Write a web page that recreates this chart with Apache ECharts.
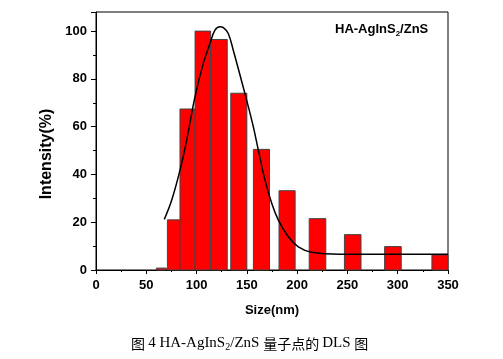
<!DOCTYPE html>
<html><head><meta charset="utf-8">
<script src="https://cdn.jsdelivr.net/npm/echarts@6/dist/echarts.min.js"></script>
<style>html,body{margin:0;padding:0;background:#fff}#c{width:503px;height:359px}</style>
</head><body><div id="c"></div>
<script>
// Histogram bins: [start nm, end nm]
const binStart = [60, 71, 83.5, 98.5, 114, 134, 156.5, 182, 212, 247, 287, 334];
const binEnd   = [70, 83.5, 98.5, 114, 130.5, 150, 172.5, 198, 228.5, 263.5, 303.5, 350];
const intensity = [0.8, 21, 67.4, 100, 96.5, 74, 50.5, 33.2, 21.5, 14.8, 9.8, 6.3];
// Fitted curve
const fitX = [67.9, 75.3, 83.5, 90.2, 98.4, 106.7, 113.4, 118.3, 123.3, 126.6, 131.5, 136.5, 149.8, 156.4, 161.4, 168.0, 174.7, 181.3, 191.2, 201.2, 214.5, 242.6, 350];
const fitY = [21.2, 29.3, 41.8, 54.4, 72.5, 86.5, 94.9, 100.4, 101.8, 101.5, 99.0, 92.0, 71.1, 60.0, 50.2, 37.7, 27.9, 20.9, 13.9, 9.7, 7.4, 6.6, 6.6];
const xTicks = [0, 50, 100, 150, 200, 250, 300, 350];
const yTicks = [0, 20, 40, 60, 80, 100];

const chart = echarts.init(document.getElementById('c'));
const bold = {fontFamily: 'Liberation Sans, Arial', fontWeight: 'bold', color: '#000'};
const barData = binStart.map((s, i) => [s, binEnd[i], intensity[i]]);
const fitData = fitX.map((x, i) => [x, fitY[i]]);

chart.setOption({
  animation: false,
  backgroundColor: '#fff',
  grid: {left: 96, right: 55, top: 12, bottom: 89, show: true, borderColor: '#000', borderWidth: 1},
  xAxis: {
    type: 'value', min: 0, max: 350, interval: 50,
    name: 'Size(nm)', nameLocation: 'middle', nameGap: 34,
    nameTextStyle: Object.assign({fontSize: 13}, bold),
    axisLine: {show: true, lineStyle: {color: '#000', width: 1}},
    axisTick: {show: true, inside: false, length: 4, lineStyle: {color: '#000'}},
    minorTick: {show: true, splitNumber: 2, length: 2, lineStyle: {color: '#000'}},
    axisLabel: Object.assign({fontSize: 13, margin: 9, formatter: v => xTicks.includes(v) ? String(v) : ''}, bold),
    splitLine: {show: false}
  },
  yAxis: {
    type: 'value', min: 0, max: 108, interval: 20,
    name: 'Intensity(%)', nameLocation: 'middle', nameGap: 38, nameRotate: 90,
    nameTextStyle: Object.assign({fontSize: 16, padding: [0, 26, 0, 0]}, bold),
    axisLine: {show: true, lineStyle: {color: '#000', width: 1}},
    axisTick: {show: true, inside: false, length: 5, lineStyle: {color: '#000'}},
    minorTick: {show: true, splitNumber: 2, length: 3, lineStyle: {color: '#000'}},
    axisLabel: Object.assign({fontSize: 13, margin: 9, showMaxLabel: false, formatter: v => yTicks.includes(v) ? String(v) : ''}, bold),
    splitLine: {show: false}
  },
  series: [
    {
      type: 'custom',
      data: barData,
      encode: {x: [0, 1], y: 2},
      renderItem: function (params, api) {
        const p0 = api.coord([api.value(0), api.value(2)]);
        const p1 = api.coord([api.value(1), 0]);
        return {
          type: 'rect',
          shape: {x: p0[0], y: p0[1], width: p1[0] - p0[0], height: p1[1] - p0[1]},
          style: {fill: '#ff0000', stroke: '#444', lineWidth: 1}
        };
      },
      z: 2
    },
    {
      type: 'line', data: fitData, smooth: 0.4, symbol: 'none',
      lineStyle: {color: '#000', width: 1.5}, z: 3
    }
  ],
  graphic: [
    {
      type: 'text', left: 335, top: 23,
      style: {
        text: '{a|HA-AgInS}{s|2}{a|/ZnS}',
        rich: {
          a: {fontFamily: 'Liberation Sans, Arial', fontWeight: 'bold', fontSize: 13, fill: '#000'},
          s: {fontFamily: 'Liberation Sans, Arial', fontWeight: 'bold', fontSize: 8, fill: '#000', padding: [9, 0, 0, 0]}
        }
      }
    },
    {
      type: 'text', left: 131, top: 336,
      style: {
        text: '{c|图 }{l|4 HA-AgInS}{s|2}{l|/ZnS }{c|量子点的 }{l|DLS }{c|图}',
        rich: {
          c: {fontFamily: 'Noto Sans CJK SC', fontSize: 14, fill: '#000'},
          l: {fontFamily: 'Liberation Serif, Times New Roman', fontSize: 15, fill: '#000'},
          s: {fontFamily: 'Liberation Serif, Times New Roman', fontSize: 10, fill: '#000', padding: [8, 0, 0, 0]}
        }
      }
    }
  ]
});
</script></body></html>
